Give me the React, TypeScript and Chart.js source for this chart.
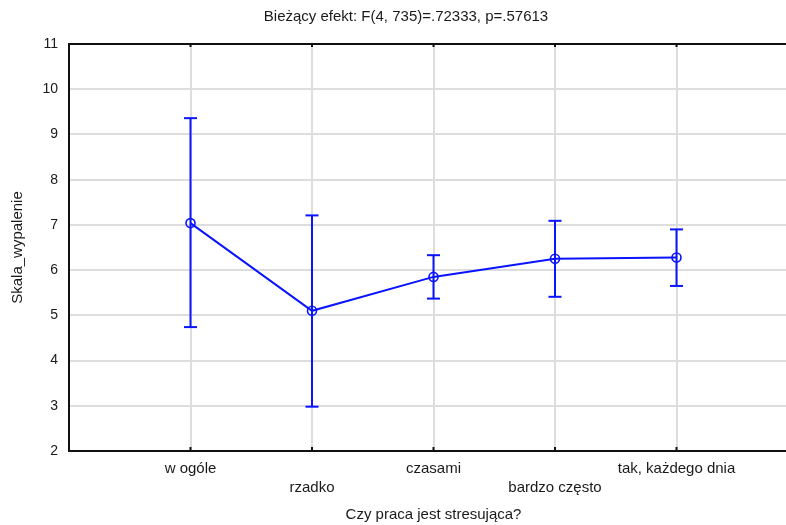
import React, { useEffect, useRef } from "react";
import { Chart, registerables } from "chart.js";

Chart.register(...registerables);

const categories = ["w ogóle", "rzadko", "czasami", "bardzo często", "tak, każdego dnia"];
const means = [7.04, 5.1, 5.85, 6.25, 6.28];
const upper = [9.36, 7.21, 6.33, 7.09, 6.9];
const lower = [4.74, 2.98, 5.37, 5.41, 5.65];
const yTicks = [2, 3, 4, 5, 6, 7, 8, 9, 10, 11];

const titleText = "Bieżący efekt: F(4, 735)=.72333, p=.57613";
const xTitle = "Czy praca jest stresująca?";
const yTitle = "Skala_wypalenie";

const BLUE = "#0a14ff";
const FONT = "'Liberation Sans', Arial, sans-serif";
const TXT = "#1a1a1a";

// small inward tick marks on the bottom axis and the top frame, at the category positions
const innerTicks = {
  id: "innerTicks",
  afterDraw(chart: any) {
    const { ctx, chartArea, scales } = chart;
    const xs = scales.x;
    ctx.save();
    ctx.strokeStyle = "#111";
    ctx.lineWidth = 2;
    categories.forEach((_, i) => {
      const px = xs.getPixelForValue(i + 1);
      ctx.beginPath();
      ctx.moveTo(px, chartArea.bottom);
      ctx.lineTo(px, chartArea.bottom - 4);
      ctx.moveTo(px, chartArea.top);
      ctx.lineTo(px, chartArea.top + 3);
      ctx.stroke();
    });
    ctx.restore();
  },
};

export default function App() {
  const ref = useRef<HTMLCanvasElement | null>(null);

  useEffect(() => {
    if (!ref.current) return;
    const meanData = means.map((m, i) => ({ x: i + 1, y: m }));
    const errData: any[] = [];
    categories.forEach((_, i) => {
      errData.push({ x: i + 1, y: lower[i] });
      errData.push({ x: i + 1, y: upper[i] });
      errData.push({ x: i + 1, y: null });
    });

    const chart = new Chart(ref.current, {
      type: "line",
      data: {
        datasets: [
          {
            data: meanData,
            borderColor: BLUE,
            borderWidth: 2,
            pointStyle: "circle",
            pointRadius: 4.5,
            pointBackgroundColor: "rgba(255,255,255,0)",
            pointBorderColor: BLUE,
            pointBorderWidth: 1.6,
            order: 0,
          },
          {
            data: errData,
            borderColor: BLUE,
            borderWidth: 2,
            spanGaps: false,
            pointStyle: "line",
            pointRadius: 6.5,
            pointBorderColor: BLUE,
            pointBorderWidth: 2,
            order: 1,
          },
        ],
      },
      plugins: [innerTicks],
      options: {
        responsive: false,
        animation: false,
        devicePixelRatio: 1,
        layout: { padding: 0 },
        plugins: {
          legend: { display: false },
          tooltip: { enabled: false },
          title: {
            display: true,
            text: titleText,
            color: TXT,
            font: { family: FONT, size: 15, weight: "normal", lineHeight: 1.2 },
            padding: { top: 8, bottom: 12 },
          },
        },
        scales: {
          x: {
            type: "linear",
            position: "bottom",
            min: 0,
            max: 6,
            afterBuildTicks: (s: any) => {
              s.ticks = categories.map((_, i) => ({ value: i + 1 }));
            },
            afterFit: (s: any) => {
              s.height = 74;
            },
            ticks: {
              autoSkip: false,
              maxRotation: 0,
              color: TXT,
              padding: 8,
              font: { family: FONT, size: 15, lineHeight: 1.27 },
              callback: (v: any) => {
                const i = Math.round(v) - 1;
                const lab = categories[i] ?? "";
                return i % 2 === 0 ? [lab] : ["", lab];
              },
            },
            grid: {
              color: "#dddddd",
              lineWidth: 2,
              drawTicks: false,
            },
            border: { color: "#111", width: 2 },
            title: {
              display: true,
              text: xTitle,
              color: TXT,
              font: { family: FONT, size: 15, lineHeight: 1.2 },
              padding: { top: 0, bottom: 1 },
            },
          },
          xTop: {
            type: "linear",
            position: "top",
            min: 0,
            max: 6,
            afterFit: (s: any) => {
              s.height = 6;
            },
            ticks: { display: false },
            grid: { drawOnChartArea: false, drawTicks: false },
            border: { color: "#111", width: 2 },
          },
          y: {
            type: "linear",
            position: "left",
            min: 2,
            max: 11,
            afterBuildTicks: (s: any) => {
              s.ticks = yTicks.map((v) => ({ value: v }));
            },
            afterFit: (s: any) => {
              s.width = 69;
            },
            ticks: {
              color: TXT,
              padding: 11,
              font: { family: FONT, size: 14 },
            },
            grid: { color: "#dddddd", lineWidth: 2, drawTicks: false },
            border: { color: "#111", width: 2 },
            title: {
              display: true,
              text: yTitle,
              color: TXT,
              font: { family: FONT, size: 15, lineHeight: 1.2 },
              padding: { top: 9, bottom: 0 },
            },
          },
          yRight: {
            type: "linear",
            position: "right",
            min: 2,
            max: 11,
            afterFit: (s: any) => {
              s.width = 14;
            },
            ticks: { display: false },
            grid: { drawOnChartArea: false, drawTicks: false },
            border: { display: false },
          },
        },
      },
    } as any);
    return () => chart.destroy();
  }, []);

  return (
    <div
      style={{
        position: "fixed",
        left: 0,
        top: 0,
        width: 786,
        height: 525,
        overflow: "hidden",
        background: "#fff",
      }}
    >
      <canvas ref={ref} width={812} height={525} style={{ display: "block", width: 812, height: 525 }} />
    </div>
  );
}
